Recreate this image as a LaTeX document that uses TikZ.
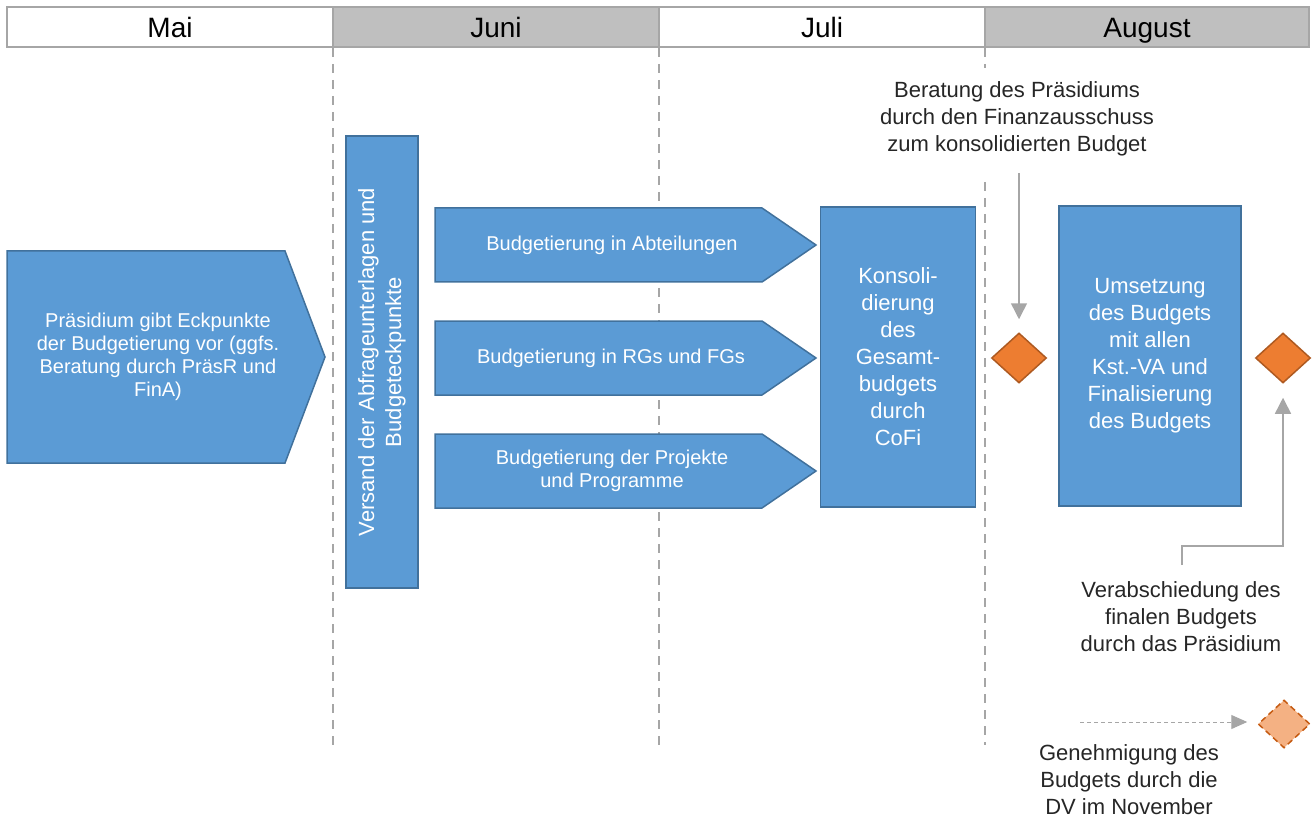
\documentclass[tikz,border=0pt]{standalone}
\usepackage{fontspec}
\setmainfont{Liberation Sans}
\usetikzlibrary{arrows.meta,shapes.geometric}
\definecolor{blueF}{HTML}{5B9BD5}
\definecolor{blueD}{HTML}{41719C}
\definecolor{orF}{HTML}{ED7D31}
\definecolor{orD}{HTML}{AE5A21}
\definecolor{ltF}{HTML}{F4B183}
\definecolor{ltD}{HTML}{C55A11}
\definecolor{gr}{HTML}{A6A6A6}
\definecolor{hdr}{HTML}{BFBFBF}
\definecolor{txt}{HTML}{262626}
\newcommand\bodyfs{\fontsize{20}{23}\selectfont}
\newcommand\bigfs{\fontsize{22}{27}\selectfont}
\newcommand\hdrfs{\fontsize{28}{30}\selectfont}
\begin{document}
\begin{tikzpicture}[x=1pt,y=-1pt,
  hdrcell/.style={draw=gr, line width=2pt, minimum height=40pt, inner sep=0pt, font=\hdrfs, text=black, text height=22pt, text depth=0pt},
  grid/.style={draw=gr, line width=1.6pt, dash pattern=on 9pt off 7pt},
  bluebox/.style={draw=blueD, fill=blueF, line width=1.5pt},
  wtext/.style={text=white, align=center, inner sep=0pt},
  ktext/.style={text=txt, align=center, inner sep=0pt, font=\bigfs},
  garrow/.style={draw=gr, line width=1.5pt, -{Triangle[width=16pt,length=16pt]}},
  milestone/.style={diamond, draw=orD, fill=orF, line width=1.5pt, minimum width=55pt, minimum height=50pt, inner sep=0pt}
]
\useasboundingbox (0,0) rectangle (1314,818);

% header
\node[hdrcell, fill=white, minimum width=326pt] (mai) at (170,27) {Mai};
\node[hdrcell, fill=hdr, minimum width=326pt] (juni) at (496,27) {Juni};
\node[hdrcell, fill=white, minimum width=326pt] (juli) at (822,27) {Juli};
\node[hdrcell, fill=hdr, minimum width=324pt] (aug) at (1147,27) {August};

% dashed month separators
\draw[grid] (333,48) -- (333,752);
\draw[grid] (659,48) -- (659,752);
\draw[grid] (985,48) -- (985,68);
\draw[grid] (985,182) -- (985,745);

% left pentagon
\draw[bluebox] (7,251) -- (285,251) -- (325,357) -- (285,463) -- (7,463) -- cycle;
\node[wtext, font=\bodyfs] (praes) at (158,357) {Präsidium gibt Eckpunkte\\der Budgetierung vor (ggfs.\\Beratung durch PräsR und\\FinA)};

% vertical box
\node[bluebox, rotate=90, minimum width=452pt, minimum height=72pt, inner sep=0pt,
      text=white, align=center, font=\bigfs] (versand) at (382,362)
      {Versand der Abfrageunterlagen und\\Budgeteckpunkte};

% three arrows
\draw[bluebox] (435,208) -- (762,208) -- (816,245) -- (762,282) -- (435,282) -- cycle;
\node[wtext, font=\bodyfs] (abt) at (612,245) {Budgetierung in Abteilungen};
\draw[bluebox] (435,321) -- (762,321) -- (816,358) -- (762,395) -- (435,395) -- cycle;
\node[wtext, font=\bodyfs] (rgs) at (611,358) {Budgetierung in RGs und FGs};
\draw[bluebox] (435,434) -- (762,434) -- (816,471) -- (762,508) -- (435,508) -- cycle;
\node[wtext, font=\bodyfs] (proj) at (612,471) {Budgetierung der Projekte\\und Programme};

% Konsolidierung
\node[bluebox, minimum width=155pt, minimum height=300pt, inner sep=0pt] (kons) at (898,357) {};
\node[wtext, font=\bigfs] (konstxt) at (kons) {Konsoli-\\dierung\\des\\Gesamt-\\budgets\\durch\\CoFi};

% Umsetzung
\node[bluebox, minimum width=182pt, minimum height=300pt, inner sep=0pt] (ums) at (1150,356) {};
\node[wtext, font=\bigfs] (umstxt) at (ums) {Umsetzung\\des Budgets\\mit allen\\Kst.-VA und\\Finalisierung\\des Budgets};

% milestones
\node[milestone] (d1) at (1019,358) {};
\node[milestone] (d2) at (1283,358) {};
\node[diamond, draw=ltD, fill=ltF, line width=1.5pt, dash pattern=on 6pt off 4pt,
      minimum width=52pt, minimum height=48pt, inner sep=0pt] (d3) at (1284,724) {};

% annotations
\node[ktext] (ber) at (1017,119) {Beratung des Präsidiums\\durch den Finanzausschuss\\zum konsolidierten Budget};
\node[ktext] (verab) at (1181,617) {Verabschiedung des\\finalen Budgets\\durch das Präsidium};
\node[ktext] (gen) at (1129,780) {Genehmigung des\\Budgets durch die\\DV im November};

% connectors
\coordinate (bs) at (1019,173);
\draw[garrow, shorten >=13pt] (bs) -- (d1.north);
\coordinate (vs) at (1182,565);
\coordinate (vb) at (1182,546);
\draw[garrow, shorten >=14pt] (vs) -- (vb) -| (d2.south);
\coordinate (gs) at (1080,722);
\draw[draw=gr, line width=1pt, dash pattern=on 4pt off 3pt, -{Triangle[width=14pt,length=16pt]}, shorten >=10pt] (gs) -- (gs -| d3.west);
\end{tikzpicture}
\end{document}
